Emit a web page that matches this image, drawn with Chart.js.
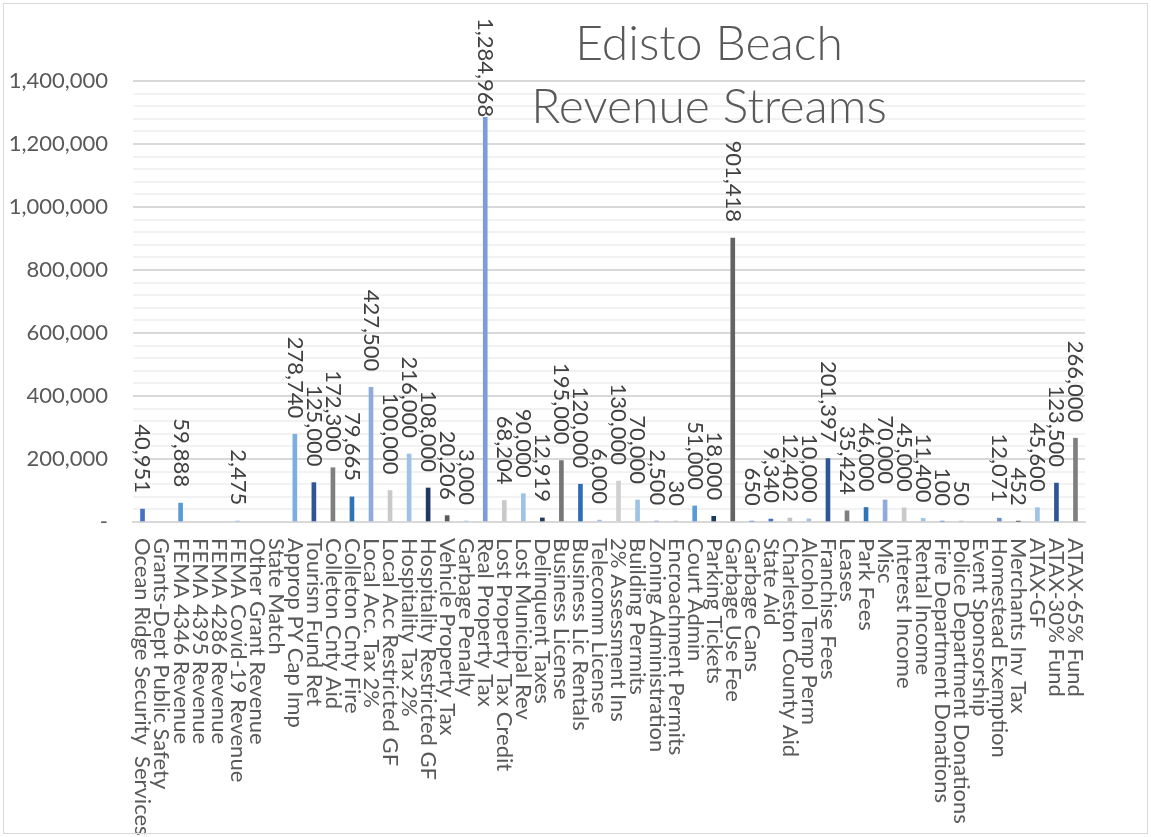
<!DOCTYPE html>
<html>
<head>
<meta charset="utf-8">
<script src="https://cdn.jsdelivr.net/npm/chart.js@4/dist/chart.umd.min.js"></script>
<style>
    body { margin: 0; background: #ffffff; }
    canvas { display: block; }
</style>
</head>
<body>
<canvas id="revenueChart" width="1151" height="837"></canvas>
<script>
const categories = [
    "Ocean Ridge Security  Services", "Grants-Dept Public Safety", "FEMA 4346 Revenue",
    "FEMA 4395 Revenue", "FEMA 4286 Revenue", "FEMA Covid-19 Revenue", "Other Grant Revenue",
    "State Match", "Approp PY Cap Imp", "Tourism Fund Ret", "Colleton Cnty Aid",
    "Colleton Cnty Fire", "Local Acc. Tax 2%", "Local Acc Restricted GF", "Hospitality Tax 2%",
    "Hospitality Restricted GF", "Vehicle Property Tax", "Garbage Penalty", "Real Property Tax",
    "Lost Property Tax Credit", "Lost Municipal Rev", "Delinquent Taxes", "Business License",
    "Business Lic Rentals", "Telecomm License", "2% Assessment Ins", "Building Permits",
    "Zoning Administration", "Encroachment Permits", "Court Admin", "Parking Tickets",
    "Garbage Use Fee", "Garbage Cans", "State Aid", "Charleston County Aid", "Alcohol Temp Perm",
    "Franchise Fees", "Leases", "Park Fees", "Misc", "Interest Income", "Rental Income",
    "Fire Department Donations", "Police Department Donations", "Event Sponsorship",
    "Homestead Exemption", "Merchants Inv Tax", "ATAX-GF", "ATAX-30% Fund", "ATAX-65% Fund"
];

const revenues = [
    40951, null, 59888, null, null, 2475, null, null, 278740, 125000, 172300,
    79665, 427500, 100000, 216000, 108000, 20206, 3000, 1284968,
    68204, 90000, 12919, 195000, 120000, 6000, 130000, 70000,
    2500, 30, 51000, 18000, 901418, 650, 9340, 12402, 10000,
    201397, 35424, 46000, 70000, 45000, 11400, 100, 50, null,
    12071, 452, 45600, 123500, 266000
];

const yTicks = [0, 200000, 400000, 600000, 800000, 1000000, 1200000, 1400000];

const barColors = [
    "#4472C4", "#A5A5A5", "#5B9BD5", "#264478", "#7F7F7F", "#9DC3E6", "#7F7F7F", "#2F5597",
    "#7DAEE0", "#2F5597", "#7F7F7F", "#2E75B6", "#8FAADC", "#C9C9C9", "#9DC3E6", "#203864",
    "#595959", "#9DC3E6", "#7C9CDB", "#C9C9C9", "#9DC3E6", "#203864", "#767676", "#2E6DB4",
    "#9DC3E6", "#D0D0D0", "#9DC3E6", "#8FAADC", "#C9C9C9", "#5B9BD5", "#203864", "#636363",
    "#8FAADC", "#4472C4", "#C0C0C0", "#9DC3E6", "#2F5597", "#7F7F7F", "#2E75B6", "#8FAADC",
    "#C9C9C9", "#9DC3E6", "#8FAADC", "#C9C9C9", "#9DC3E6", "#6F8FD0", "#7F7F7F", "#9DC3E6",
    "#2F5597", "#7F7F7F"
];

const textGray = "#595959";
const fontFamily = "Lato, Carlito, Calibri, sans-serif";

// value labels, rotated to read top to bottom, sitting above each bar
const valueLabels = {
    id: "valueLabels",
    afterDatasetsDraw(chart) {
        const ctx = chart.ctx;
        const meta = chart.getDatasetMeta(0);
        ctx.save();
        ctx.font = "22px " + fontFamily;
        ctx.fillStyle = "#404040";
        ctx.textBaseline = "middle";
        ctx.textAlign = "right";
        meta.data.forEach((bar, i) => {
            const v = revenues[i];
            if (v === null) return;
            const text = v.toLocaleString("en-US");
            const w = ctx.measureText(text).width;
            let end = bar.y - 16;
            if (end - w < 18) end = 18 + w;
            ctx.save();
            ctx.translate(bar.x, end);
            ctx.rotate(Math.PI / 2);
            ctx.fillText(text, 0, 0);
            ctx.restore();
        });
        ctx.restore();
    }
};

// category labels, title and frame
const decorations = {
    id: "decorations",
    afterDraw(chart) {
        const ctx = chart.ctx;
        const xScale = chart.scales.x;
        ctx.save();
        ctx.font = "22px " + fontFamily;
        ctx.fillStyle = textGray;
        ctx.textBaseline = "middle";
        ctx.textAlign = "left";
        categories.forEach((name, i) => {
            ctx.save();
            ctx.translate(xScale.getPixelForTick(i), chart.chartArea.bottom + 16);
            ctx.rotate(Math.PI / 2);
            ctx.fillText(name, 0, 0);
            ctx.restore();
        });

        ctx.font = "300 48px " + fontFamily;
        ctx.textAlign = "center";
        ctx.fillText("Edisto Beach", 709, 45);
        ctx.fillText("Revenue Streams", 709, 108);

        ctx.strokeStyle = "#d9d9d9";
        ctx.lineWidth = 1;
        ctx.strokeRect(3.5, 3.5, chart.width - 7, chart.height - 7);
        ctx.restore();
    }
};

new Chart(document.getElementById("revenueChart"), {
    type: "bar",
    data: {
        labels: categories,
        datasets: [{
            data: revenues,
            backgroundColor: barColors,
            barThickness: 4
        }]
    },
    options: {
        responsive: false,
        animation: false,
        devicePixelRatio: 1,
        layout: { padding: { left: 0, top: 81, right: 66, bottom: 0 } },
        plugins: {
            legend: { display: false },
            tooltip: { enabled: false }
        },
        scales: {
            x: {
                grid: { display: false },
                ticks: { display: false },
                border: { display: true, color: "#d9d9d9", width: 2 },
                afterFit(scale) { scale.height = 315; }
            },
            y: {
                min: 0,
                max: yTicks[yTicks.length - 1],
                ticks: {
                    stepSize: 40000,
                    autoSkip: false,
                    padding: 25,
                    color: textGray,
                    font: { family: fontFamily, size: 22 },
                    callback: v => v === 0 ? "-" : (yTicks.includes(v) ? v.toLocaleString("en-US") : "")
                },
                grid: {
                    drawTicks: false,
                    lineWidth: 2,
                    color: c => yTicks.includes(c.tick.value) ? "#d9d9d9" : "#f2f2f2"
                },
                border: { display: false },
                afterFit(scale) { scale.width = 133; }
            }
        }
    },
    plugins: [valueLabels, decorations]
});
</script>
</body>
</html>
